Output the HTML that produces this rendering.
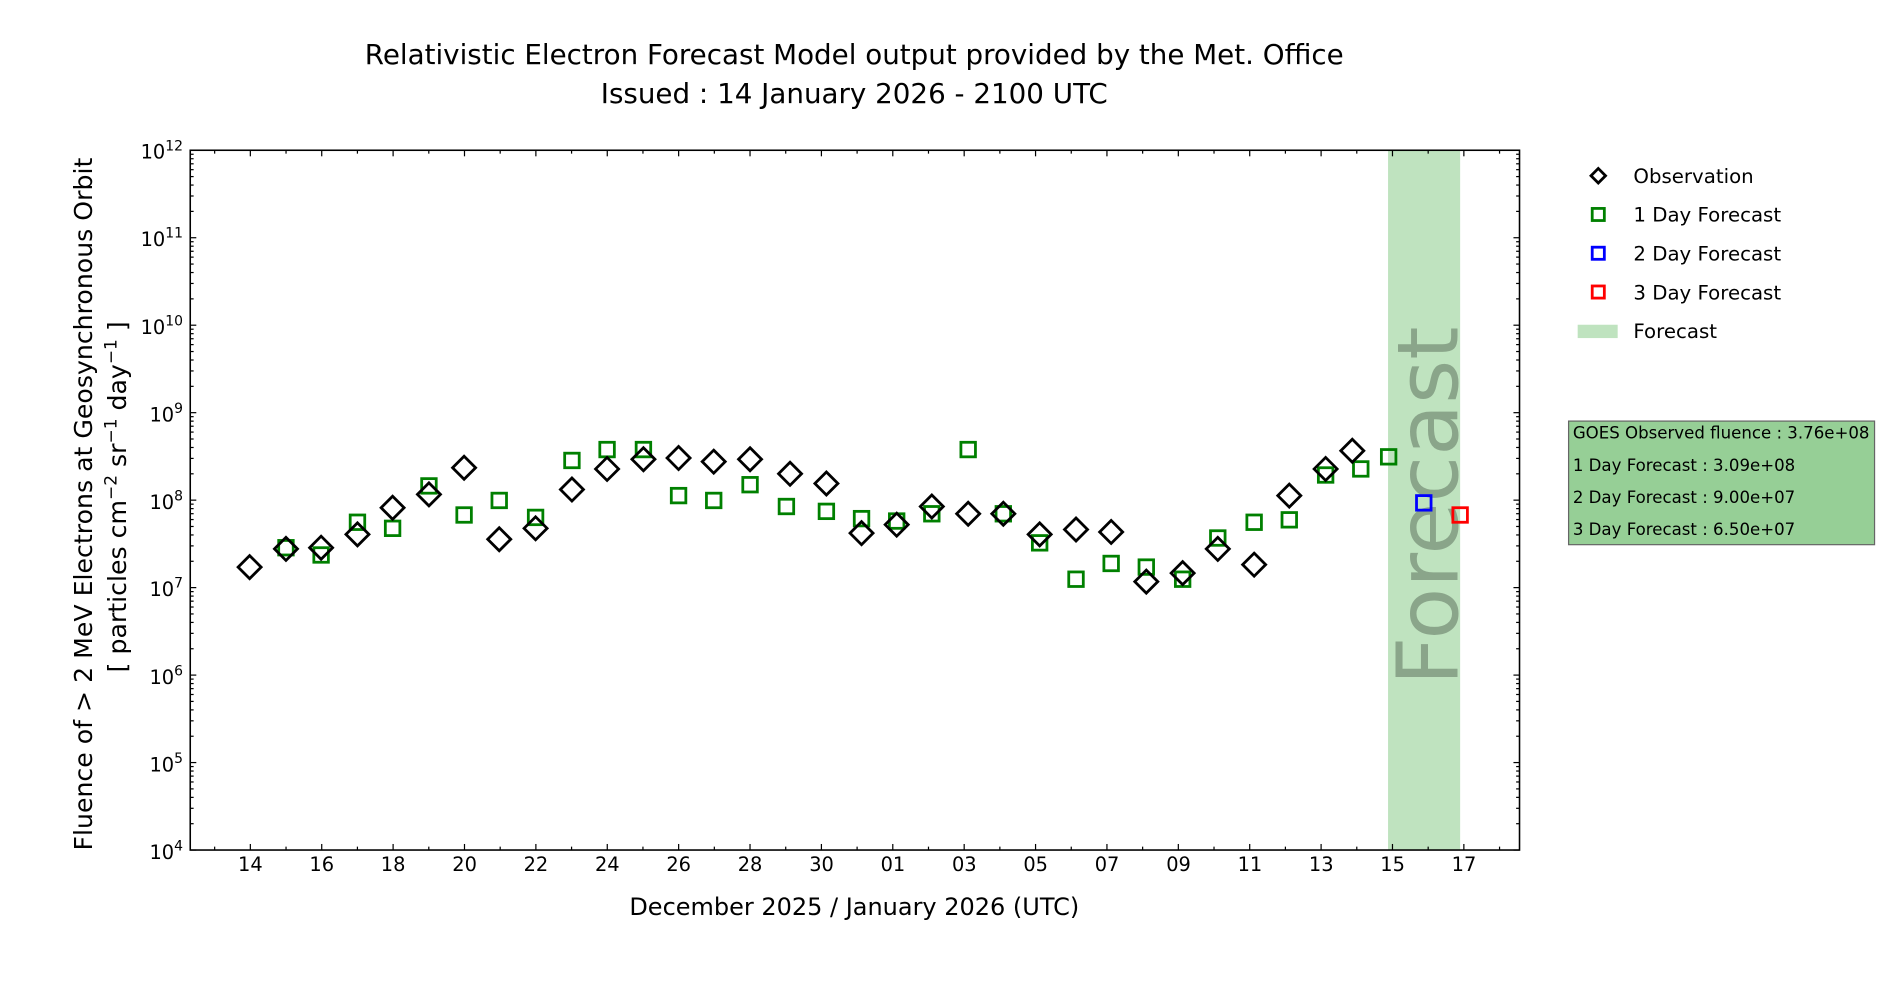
<!DOCTYPE html>
<html><head><meta charset="utf-8"><style>
html,body{margin:0;padding:0;background:#fff;width:1900px;height:1000px;overflow:hidden}
svg{display:block}
text{font-family:"DejaVu Sans","Liberation Sans",sans-serif;fill:#000}
</style></head><body>
<svg id="s" width="1900" height="1000" viewBox="0 0 1568 825.26" preserveAspectRatio="none" xmlns="http://www.w3.org/2000/svg">
<rect x="0" y="0" width="1568" height="826" fill="#fff"/>
<text x="705" y="53" font-size="22.9" text-anchor="middle">Relativistic Electron Forecast Model output provided by the Met. Office</text>
<text x="705" y="85" font-size="22.9" text-anchor="middle">Issued : 14 January 2026 - 2100 UTC</text>
<rect x="1145.5" y="124" width="59.5" height="577.5" fill="#bfe3bf"/>
<text transform="translate(1203,417.5) rotate(-90)" font-size="70" text-anchor="middle" style="fill:#8aa58a">Forecast</text>
<g id="ticks" stroke="#000" stroke-width="1"></g>
<rect x="157" y="124" width="1097" height="577.5" fill="none" stroke="#000" stroke-width="1.3"/>
<g font-size="16" text-anchor="middle">
<text x="206.6" y="719">14</text><text x="265.5" y="719">16</text><text x="324.4" y="719">18</text><text x="383.4" y="719">20</text><text x="442.3" y="719">22</text><text x="501.2" y="719">24</text><text x="560.1" y="719">26</text><text x="619.0" y="719">28</text><text x="678.0" y="719">30</text><text x="736.9" y="719">01</text><text x="795.8" y="719">03</text><text x="854.7" y="719">05</text><text x="913.6" y="719">07</text><text x="972.6" y="719">09</text><text x="1031.5" y="719">11</text><text x="1090.4" y="719">13</text><text x="1149.3" y="719">15</text><text x="1208.2" y="719">17</text>
</g>
<g font-size="16" text-anchor="end">
<text x="151" y="131">10<tspan font-size="11.5" dy="-7">12</tspan></text>
<text x="151" y="203">10<tspan font-size="11.5" dy="-7">11</tspan></text>
<text x="151" y="275.5">10<tspan font-size="11.5" dy="-7">10</tspan></text>
<text x="151" y="347.7">10<tspan font-size="11.5" dy="-7">9</tspan></text>
<text x="151" y="419.9">10<tspan font-size="11.5" dy="-7">8</tspan></text>
<text x="151" y="492">10<tspan font-size="11.5" dy="-7">7</tspan></text>
<text x="151" y="564.3">10<tspan font-size="11.5" dy="-7">6</tspan></text>
<text x="151" y="636.5">10<tspan font-size="11.5" dy="-7">5</tspan></text>
<text x="151" y="708.7">10<tspan font-size="11.5" dy="-7">4</tspan></text>
</g>
<text x="705" y="755" font-size="19.8" text-anchor="middle">December 2025 / January 2026 (UTC)</text>
<text transform="translate(76,416) rotate(-90)" font-size="20.8" text-anchor="middle">Fluence of &gt; 2 MeV Electrons at Geosynchronous Orbit</text>
<text transform="translate(104,410) rotate(-90)" font-size="20.8" text-anchor="middle">[ particles cm<tspan font-size="14" dy="-8">−2</tspan><tspan dy="8"> sr</tspan><tspan font-size="14" dy="-8">−1</tspan><tspan dy="8"> day</tspan><tspan font-size="14" dy="-8">−1</tspan><tspan dy="8"> ]</tspan></text>
<g id="pts" fill="none" stroke-width="2.3"></g>
<g font-size="16.3">
<path d="M1319 139 L1325 145 L1319 151 L1313 145Z" fill="none" stroke="#000" stroke-width="2.3"/>
<text x="1348" y="151">Observation</text>
<rect x="1314" y="172" width="10" height="10" fill="none" stroke="#008000" stroke-width="2.3"/>
<text x="1348" y="183">1 Day Forecast</text>
<rect x="1314" y="204" width="10" height="10" fill="none" stroke="#0000ff" stroke-width="2.3"/>
<text x="1348" y="215">2 Day Forecast</text>
<rect x="1314" y="236" width="10" height="10" fill="none" stroke="#ff0000" stroke-width="2.3"/>
<text x="1348" y="247">3 Day Forecast</text>
<rect x="1302" y="268" width="33" height="11" fill="#bfe3bf"/>
<text x="1348" y="279">Forecast</text>
</g>
<rect x="1294.5" y="347.5" width="252.5" height="102" fill="#96cf96" stroke="#666" stroke-width="1"/>
<g font-size="13.7">
<text x="1298" y="362">GOES Observed fluence : 3.76e+08</text>
<text x="1298" y="388.5">1 Day Forecast : 3.09e+08</text>
<text x="1298" y="415">2 Day Forecast : 9.00e+07</text>
<text x="1298" y="441.5">3 Day Forecast : 6.50e+07</text>
</g>
</svg>
<script>
var NS="http://www.w3.org/2000/svg";
function el(p,n,a){var e=document.createElementNS(NS,n);for(var k in a)e.setAttribute(k,a[k]);p.appendChild(e);return e;}
var T=document.getElementById("ticks");
var L=157,R=1254,TOP=124,BOT=701.5,DEC=(BOT-TOP)/8;
for(var d=-1;d<=36;d++){var x=206.6+29.455*d;if(x<L||x>R)continue;var len=(d%2==0)?5:2.8;
 el(T,"line",{x1:x,x2:x,y1:BOT,y2:BOT-len});el(T,"line",{x1:x,x2:x,y1:TOP,y2:TOP+len});}
for(var k=0;k<8;k++){for(var m=1;m<=9;m++){var y=BOT-(k+Math.log10(m))*DEC;var len=m==1?5:2.8;
 el(T,"line",{x1:L,x2:L+len,y1:y,y2:y});el(T,"line",{x1:R,x2:R-len,y1:y,y2:y});}}
el(T,"line",{x1:L,x2:L+5,y1:TOP,y2:TOP});el(T,"line",{x1:R,x2:R-5,y1:TOP,y2:TOP});
var P=document.getElementById("pts");
var obs=[[206,468],[236,453],[265,452],[295,441],[324,419],[354,408],[383,386],[412,445],[442,436],[472,404],[501,387],[531,379],[560,378],[589,381],[619,379],[652,391],[682,399],[711,440],[740,433],[769,418],[799,424],[828,424],[858,441],[888,437],[917,439],[946,480],[976,473],[1005,453],[1035,466],[1064,409],[1094,387],[1116,372]];
var g1=[[236,452],[265,458],[295,431],[324,436],[354,401],[383,425],[412,413],[442,427],[472,380],[501,371],[531,371],[560,409],[589,413],[619,400],[649,418],[682,422],[711,428],[740,430],[769,424],[799,371],[828,424],[858,448],[888,478],[917,465],[946,468],[976,478],[1005,444],[1035,431],[1064,429],[1094,392],[1123,387],[1146,377]];
function sq(p,c){el(P,"rect",{x:p[0]-6,y:p[1]-6,width:12,height:12,stroke:c});}
g1.forEach(function(p){sq(p,"#008000");});
obs.forEach(function(p){var x=p[0],y=p[1],r=9.5;el(P,"path",{d:"M"+x+" "+(y-r)+"L"+(x+r)+" "+y+"L"+x+" "+(y+r)+"L"+(x-r)+" "+y+"Z",stroke:"#000"});});
sq([1175,415],"#0000ff");sq([1205,425],"#ff0000");
</script>
</body></html>
